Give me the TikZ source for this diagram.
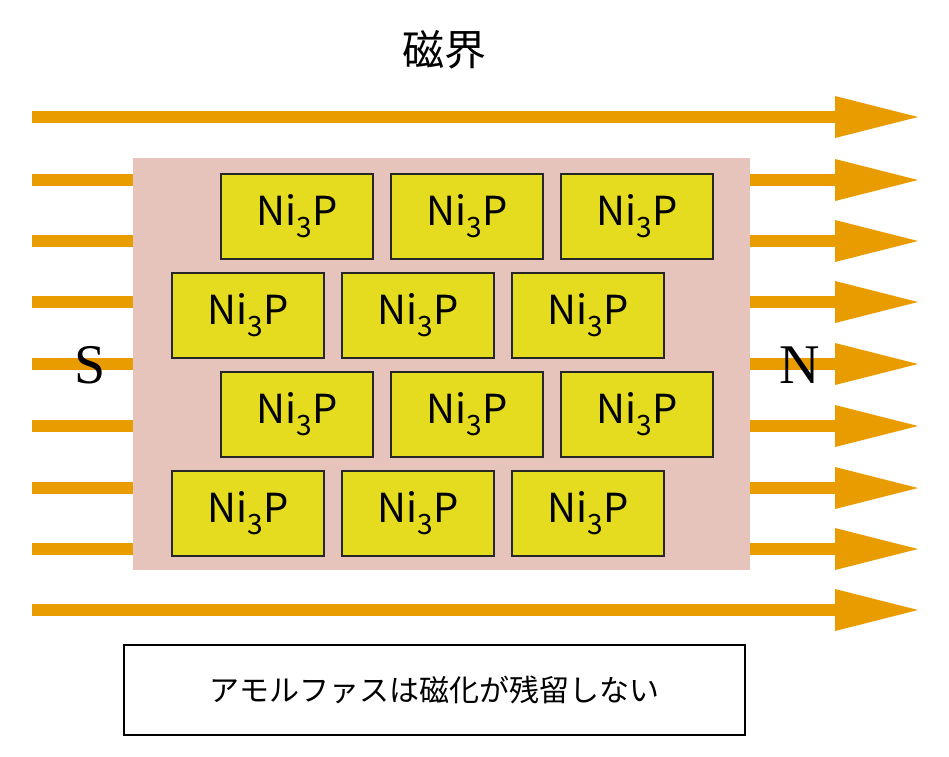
\documentclass[tikz,border=0pt]{standalone}
\usepackage{fontspec}
\setmainfont{Noto Sans CJK JP}
\newfontfamily\serifb{Liberation Serif}
\begin{document}
\begin{tikzpicture}[x=1pt,y=-1pt,
  arrowc/.style={fill=orange!80!yellow!90!black},
  nibox/.style={draw=black!85,line width=1.5pt,fill=yellow!85!olive!70,minimum width=152pt,minimum height=85pt,inner sep=0pt,font=\fontsize{40}{40}\selectfont},
  ]
\definecolor{arr}{HTML}{E99C00}
\definecolor{pinkb}{HTML}{E6C4BB}
\definecolor{ylw}{HTML}{E5DC1F}
\useasboundingbox (0,0) rectangle (949,756);
\node (title) at (444,50) {\fontsize{42}{42}\selectfont 磁界};
\foreach \y in {117,180,241,302,364,426,488,549,610}{
  \fill[arr] (32,\y-6) rectangle (840,\y+6);
  \fill[arr] (835,\y-21) -- (918,\y) -- (835,\y+21) -- cycle;
}
\node[fill=pinkb,minimum width=617pt,minimum height=412pt,inner sep=0pt] (mat) at (441.5,364) {};
\foreach \r/\y/\x in {1/216.5/220,2/315.5/171,3/414.5/220,4/513.5/171}{
  \foreach \c in {0,1,2}{
    \node[nibox,fill=ylw,anchor=west] (b\r\c) at (\x+\c*170,\y) {Ni$_{\mathrm{3}}$P};
  }
}
\node (S) at (90,365) {\serifb\fontsize{56}{56}\selectfont S};
\node (N) at (800,365) {\serifb\fontsize{56}{56}\selectfont N};
\node[draw=black,line width=1.2pt,minimum width=621pt,minimum height=90pt] (cap) at (434.5,690) {\fontsize{30}{30}\selectfont アモルファスは磁化が残留しない};
\end{tikzpicture}
\end{document}
